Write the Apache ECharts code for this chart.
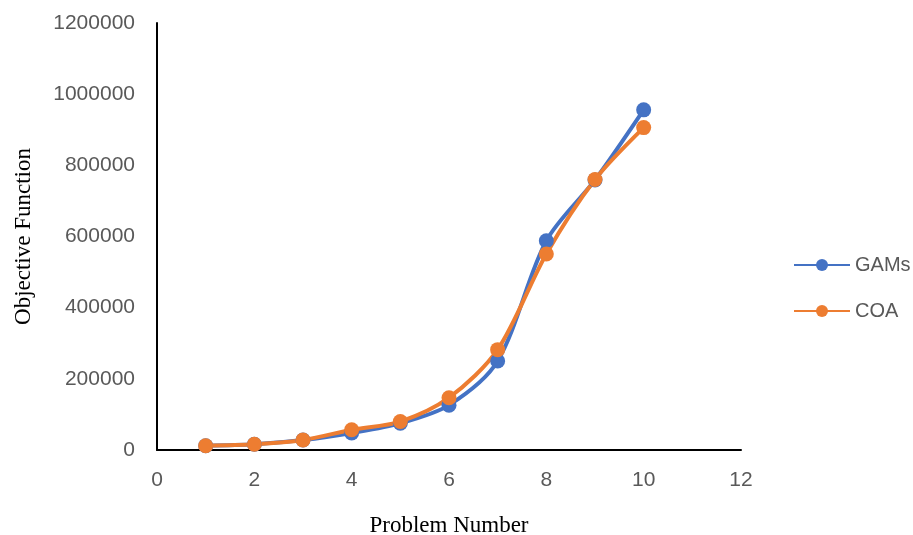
<!DOCTYPE html>
<html><head><meta charset="utf-8">
<script src="https://cdn.jsdelivr.net/npm/echarts@6/dist/echarts.min.js"></script>
<style>html,body{margin:0;padding:0;background:#fff}#c{width:913px;height:535px}</style>
</head><body><div id="c"></div>
<script>
const problems = [1,2,3,4,5,6,7,8,9,10];
const gams = [12000,16000,28000,48000,75000,126000,250000,588000,759000,956000];
const coa  = [12000,16000,28000,57000,80000,147000,282000,551000,760000,906000];
const xTicks = {min:0,max:12,interval:2};
const yTicks = {min:0,max:1200000,interval:200000};

const chart = echarts.init(document.getElementById('c'));
const lbl = {color:'#595959',fontSize:21,fontFamily:'Liberation Sans, Arial, sans-serif'};
chart.setOption({
  animation:false,
  grid:{left:157,right:172,top:23,bottom:85,containLabel:false,outerBoundsMode:'none'},
  legend:{
    orient:'vertical',left:788,top:250,itemGap:26,itemWidth:56,itemHeight:15,
    textStyle:{color:'#595959',fontSize:20,fontFamily:'Liberation Sans, Arial, sans-serif'},
    data:['GAMs','COA']
  },
  xAxis:{
    type:'value',min:xTicks.min,max:xTicks.max,interval:xTicks.interval,
    name:'Problem Number',nameLocation:'middle',nameGap:64,
    nameTextStyle:{color:'#000',fontSize:23,fontFamily:'Liberation Serif, Times New Roman, serif'},
    axisLine:{show:true,lineStyle:{color:'#000',width:2}},
    axisTick:{show:false},splitLine:{show:false},
    axisLabel:Object.assign({margin:20,formatter:v=>String(v)},lbl)
  },
  yAxis:{
    type:'value',min:yTicks.min,max:yTicks.max,interval:yTicks.interval,
    name:'Objective Function',nameLocation:'middle',nameGap:122,
    nameTextStyle:{color:'#000',fontSize:23,fontFamily:'Liberation Serif, Times New Roman, serif'},
    axisLine:{show:true,lineStyle:{color:'#000',width:2}},
    axisTick:{show:false},splitLine:{show:false},
    axisLabel:Object.assign({margin:22,formatter:v=>String(v)},lbl)
  },
  series:[
    {name:'GAMs',type:'line',smooth:0.3,data:problems.map((p,i)=>[p,gams[i]]),
     symbol:'circle',symbolSize:15,itemStyle:{color:'#4472C4'},lineStyle:{color:'#4472C4',width:4}},
    {name:'COA',type:'line',smooth:0.3,data:problems.map((p,i)=>[p,coa[i]]),
     symbol:'circle',symbolSize:15,itemStyle:{color:'#ED7D31'},lineStyle:{color:'#ED7D31',width:4}}
  ]
});
</script></body></html>
